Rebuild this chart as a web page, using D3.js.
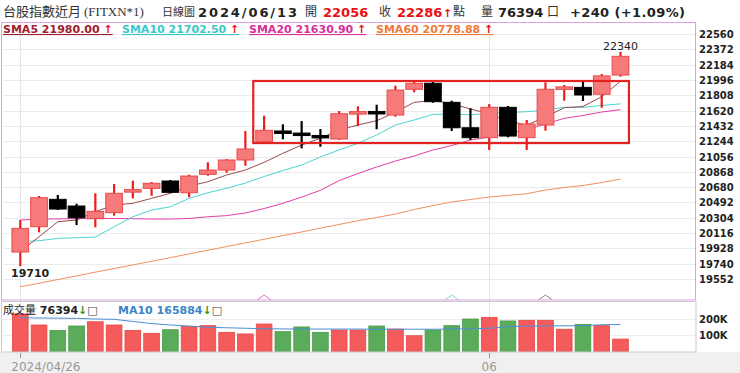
<!DOCTYPE html>
<html>
<head>
<meta charset="utf-8">
<script src="https://cdn.jsdelivr.net/npm/d3@7"></script>
<style>
  body { margin: 0; background: #fff; }
  svg { display: block; }
</style>
</head>
<body>
<script>
// daily candles, 2024/04/26 - 2024/06/13
const dates = ['2024/04/26','2024/04/29','2024/04/30','2024/05/02','2024/05/03',
  '2024/05/06','2024/05/07','2024/05/08','2024/05/09','2024/05/10',
  '2024/05/13','2024/05/14','2024/05/15','2024/05/16','2024/05/17',
  '2024/05/20','2024/05/21','2024/05/22','2024/05/23','2024/05/24',
  '2024/05/27','2024/05/28','2024/05/29','2024/05/30','2024/05/31',
  '2024/06/03','2024/06/04','2024/06/05','2024/06/06','2024/06/07',
  '2024/06/11','2024/06/12','2024/06/13'];
const opens  = [19883,20194,20530,20448,20292,20366,20620,20665,20755,20611,20837,20890,21013,21237,21360,21341,21311,
  21271,21581,21606,21565,21881,21955,21721,21409,21287,21660,21287,21443,21885,21905,21820,22056];
const highs  = [20276,20571,20583,20476,20604,20718,20759,20743,20767,20832,20984,21025,21369,21557,21451,21492,21393,
  21614,21672,21692,21925,21995,21971,21741,21648,21700,21676,21504,21967,21934,21974,22069,22340];
const lows   = [19710,20125,20399,20214,20186,20329,20542,20574,20611,20555,20820,20857,20943,21230,21267,21156,21176,
  21258,21430,21390,21544,21844,21716,21369,21258,21136,21291,21136,21373,21741,21737,21655,22036];
const closes = [20174,20550,20411,20304,20383,20604,20648,20727,20616,20816,20890,21013,21148,21377,21348,21316,21287,
  21581,21602,21581,21872,21955,21729,21409,21287,21660,21307,21455,21881,21905,21811,22046,22286];
const volumes = [231000,163000,130000,157000,183000,163000,130000,112000,134000,153000,159000,118000,108000,169000,
  122000,151000,118000,132000,132000,157000,138000,97000,132000,159000,200000,210000,188000,192000,192000,137000,
  167000,159000,76394];

const sma5  = [19887,20071,20255,20276,20378,20460,20481,20542,20604,20693,20746,20829,20890,20984,21095,21197,21279,
  21381,21443,21495,21600,21721,21745,21705,21640,21580,21492,21443,21541,21655,21670,21790,21980.00];
const sma10 = [20009,20022,20051,20059,20067,20194,20316,20399,20439,20542,20611,20665,20730,20810,20884,20951,21050,
  21136,21218,21320,21443,21504,21574,21574,21569,21584,21596,21606,21623,21660,21660,21682,21702.50];
const sma20 = [20276,20288,20290,20292,20295,20295,20292,20288,20288,20295,20316,20330,20362,20417,20481,20558,20641,
  20760,20847,20927,21000,21062,21136,21191,21258,21295,21338,21385,21455,21525,21559,21602,21630.90];
const sma60 = [19457,19500,19545,19590,19636,19680,19725,19770,19815,19860,19905,19950,19995,20040,20085,20130,20176,
  20222,20267,20307,20350,20405,20454,20497,20528,20558,20579,20599,20644,20675,20700,20736,20778.88];
const volMa10 = [208000,206000,205000,204000,200000,198000,185000,172000,163000,157000,149000,146000,143000,140000,
  139000,138000,138000,138000,138000,137000,137000,137000,137000,138000,140000,143000,153000,156000,157000,158000,
  159000,165000,165884];

const priceTicks = [22560,22372,22184,21996,21808,21620,21432,21244,21056,20868,20680,20492,20304,20116,19928,19740,19552];
const volTicks = [200000, 100000];
const volTickLabels = ['200K', '100K'];
const dateTicks = ['2024/04/26', '2024/06/03'];
const dateTickLabels = ['2024/04/26', '06'];

// moving-average cross markers along the bottom of the price panel
const crossDates = ['2024/05/16', '2024/05/30', '2024/06/06'];
const crossColors = ['#e070b8', '#7fd8d0', '#a87878'];

// boxed consolidation range
const boxFrom = '2024/05/16', boxTo = '2024/06/13';
const boxHigh = 21983, boxLow = 21221;

const W = 740, H = 373;
const numFont = '"DejaVu Sans", Verdana, sans-serif';
const cjkFont = '"Noto Sans CJK TC", sans-serif';
const serifFont = '"Liberation Serif", serif';

const svg = d3.select('body').append('svg')
  .attr('width', W).attr('height', H)
  .style('font-family', numFont);

const x = d3.scalePoint().domain(dates).range([20.3, 620.5]);
const step = x.step();
const bodyW = step * 0.89;
const y = d3.scaleLinear().domain([19552, 22560]).range([279, 34]);
const yv = d3.scaleLinear().domain([0, 200000]).range([351.5, 319]);

// bottom strip
svg.append('rect').attr('x', 0).attr('y', 352).attr('width', W).attr('height', H - 352).attr('fill', '#f0f0f0');

// grids
svg.append('g').selectAll('line').data(priceTicks).enter().append('line')
  .attr('x1', 3).attr('x2', 695)
  .attr('y1', d => Math.round(y(d)) + 0.5).attr('y2', d => Math.round(y(d)) + 0.5)
  .attr('stroke', '#ebebeb');
svg.append('g').selectAll('line').data(volTicks).enter().append('line')
  .attr('x1', 3).attr('x2', 695)
  .attr('y1', d => Math.round(yv(d)) + 0.5).attr('y2', d => Math.round(yv(d)) + 0.5)
  .attr('stroke', '#ededed');
svg.append('g').selectAll('line').data(dateTicks).enter().append('line')
  .attr('x1', d => Math.round(x(d)) + 0.5).attr('x2', d => Math.round(x(d)) + 0.5)
  .attr('y1', 23).attr('y2', 352)
  .attr('stroke', '#e6e6e6');

// date axis
const dx = svg.append('g');
dx.selectAll('line').data(dateTicks).enter().append('line')
  .attr('x1', d => Math.round(x(d)) + 0.5).attr('x2', d => Math.round(x(d)) + 0.5)
  .attr('y1', 353).attr('y2', 358).attr('stroke', '#999');
dx.selectAll('text').data(dateTicks).enter().append('text')
  .attr('x', (d, i) => i === 0 ? x(d) - 9 : x(d))
  .attr('y', 371)
  .attr('text-anchor', (d, i) => i === 0 ? 'start' : 'middle')
  .attr('font-size', 12).attr('fill', '#999')
  .text((d, i) => dateTickLabels[i]);

// price axis labels
svg.append('g').selectAll('text').data(priceTicks).enter().append('text')
  .attr('x', 699).attr('y', d => y(d) + 4)
  .attr('font-size', 10).attr('font-weight', 'bold').attr('fill', '#222')
  .text(d => d);
svg.append('g').selectAll('text').data(volTicks).enter().append('text')
  .attr('x', 699).attr('y', d => yv(d) + 4)
  .attr('font-size', 10).attr('font-weight', 'bold').attr('fill', '#222')
  .text((d, i) => volTickLabels[i]);

// moving averages
const line = d3.line().x((d, i) => x(dates[i])).y(d => y(d));
[[sma60, '#f0905e'], [sma20, '#e040a8'], [sma10, '#4cd4d0'], [sma5, '#9c4a4a']].forEach(([s, c]) => {
  svg.append('path').datum(s).attr('d', line)
    .attr('fill', 'none').attr('stroke', c).attr('stroke-width', 1);
});

// candles
const cg = svg.append('g').selectAll('g').data(dates).enter().append('g');
const up = i => closes[i] >= opens[i];
cg.append('line')
  .attr('x1', d => x(d)).attr('x2', d => x(d))
  .attr('y1', (d, i) => y(highs[i])).attr('y2', (d, i) => y(lows[i]))
  .attr('stroke', (d, i) => up(i) ? '#ee1c1c' : '#000')
  .attr('stroke-width', 2.2);
cg.append('rect')
  .attr('x', d => x(d) - bodyW / 2)
  .attr('width', bodyW)
  .attr('y', (d, i) => {
    const h = Math.abs(y(opens[i]) - y(closes[i]));
    return Math.min(y(opens[i]), y(closes[i])) - (h < 2.5 ? (2.5 - h) / 2 : 0);
  })
  .attr('height', (d, i) => Math.max(2.5, Math.abs(y(opens[i]) - y(closes[i]))))
  .attr('fill', (d, i) => up(i) ? '#f67a7a' : '#000')
  .attr('stroke', (d, i) => up(i) ? '#e94a4a' : '#000')
  .attr('stroke-width', 1);

// the box
svg.append('rect')
  .attr('x', x(boxFrom) - step * 0.58)
  .attr('y', y(boxHigh))
  .attr('width', x(boxTo) + step * 0.45 - (x(boxFrom) - step * 0.58))
  .attr('height', y(boxLow) - y(boxHigh))
  .attr('fill', 'none').attr('stroke', '#e32222').attr('stroke-width', 2.2);

// high / low labels
const hiIdx = d3.maxIndex(highs), loIdx = d3.minIndex(lows);
svg.append('text').attr('x', x(dates[hiIdx])).attr('y', y(highs[hiIdx]) - 2)
  .attr('text-anchor', 'middle').attr('font-size', 11).attr('fill', '#222')
  .text(highs[hiIdx]);
svg.append('text').attr('x', Math.max(11, x(dates[loIdx]) - 9.5)).attr('y', y(lows[loIdx]) + 11)
  .attr('font-size', 11).attr('font-weight', 'bold').attr('fill', '#222')
  .text(lows[loIdx]);

// cross markers
svg.append('g').selectAll('path').data(crossDates).enter().append('path')
  .attr('d', d => `M${x(d) - 7},300 L${x(d)},295 L${x(d) + 7},300`)
  .attr('fill', 'none').attr('stroke', (d, i) => crossColors[i]).attr('stroke-width', 1);

// volume bars
svg.append('g').selectAll('rect').data(dates).enter().append('rect')
  .attr('x', d => x(d) - bodyW / 2 + 0.5)
  .attr('width', bodyW - 1)
  .attr('y', (d, i) => yv(volumes[i]))
  .attr('height', (d, i) => yv(0) - yv(volumes[i]))
  .attr('fill', (d, i) => up(i) ? '#f45b5b' : '#5aab5a')
  .attr('stroke', (d, i) => up(i) ? '#e84545' : '#4a9a4a')
  .attr('stroke-width', 0.8);
svg.append('path').datum(volMa10)
  .attr('d', d3.line().x((d, i) => x(dates[i])).y(d => yv(d)))
  .attr('fill', 'none').attr('stroke', '#4a8fd4').attr('stroke-width', 1);

// panel borders
svg.append('rect').attr('x', 1.5).attr('y', 22.5).attr('width', 694).attr('height', 277.5)
  .attr('fill', 'none').attr('stroke', '#dca0e4');
svg.append('rect').attr('x', 1.5).attr('y', 301.5).attr('width', 694.5).attr('height', 50.5)
  .attr('fill', 'none').attr('stroke', '#cccccc');

// header
const last = dates.length - 1;
const chg = closes[last] - closes[last - 1];
const head = svg.append('g');
const cjk = (tx, str, size) => head.append('text').attr('x', tx).attr('y', 16)
  .attr('font-size', size || 13).attr('fill', '#333').style('font-family', cjkFont).text(str);
const num = (tx, str, col, len) => {
  const t = head.append('text').attr('x', tx).attr('y', 16.5).attr('font-size', 13)
    .attr('font-weight', 'bold').attr('fill', col).text(str);
  if (len) t.attr('textLength', len);
  return t;
};
cjk(3, '台股指數近月');
head.append('text').attr('x', 84).attr('y', 16).attr('font-size', 13).attr('fill', '#333')
  .style('font-family', serifFont).text('(FITXN*1)');
cjk(162, '日線圖', 11);
num(198, dates[last], '#222', 99);
cjk(305, '開', 12);
num(323, opens[last], '#e81010');
cjk(379, '收', 12);
num(397, closes[last], '#e81010');
head.append('text').attr('x', 443).attr('y', 16.5).attr('font-size', 11).attr('font-weight', 'bold')
  .attr('fill', '#e81010').text('↑');
cjk(453, '點', 12);
cjk(481, '量', 12);
num(498, volumes[last], '#222');
cjk(547, '口', 12);
num(570, `+${chg} (+${(chg / closes[last - 1] * 100).toFixed(2)}%)`, '#222', 115);

// MA legend
const legend = [
  ['SMA5', sma5, '#a0202e', 3],
  ['SMA10', sma10, '#3cc8c8', 122],
  ['SMA20', sma20, '#d8309c', 249],
  ['SMA60', sma60, '#ee7a3a', 376]
];
legend.forEach(([name, s, c, lx]) => {
  const t = svg.append('text').attr('x', lx).attr('y', 33)
    .attr('font-size', 11).attr('font-weight', 'bold')
    .style('text-decoration', 'underline').attr('fill', c);
  t.append('tspan').text(`${name} ${s[last].toFixed(2)}`);
  t.append('tspan').attr('fill', '#e81010').text(' ↑');
});

// volume legend
const vl = svg.append('text').attr('x', 3).attr('y', 314).attr('font-size', 11);
vl.append('tspan').attr('fill', '#222').style('font-family', cjkFont).attr('font-size', 11).text('成交量');
vl.append('tspan').attr('fill', '#222').attr('font-weight', 'bold').text(' ' + volumes[last]);
vl.append('tspan').attr('fill', '#2a9a2a').attr('font-weight', 'bold').text('↓');
vl.append('tspan').attr('fill', '#444').text('□');
const vl2 = svg.append('text').attr('x', 118).attr('y', 314).attr('font-size', 11).attr('font-weight', 'bold');
vl2.append('tspan').attr('fill', '#3a86c8').text(`MA10 ${volMa10[last]}`);
vl2.append('tspan').attr('fill', '#2a9a2a').text('↓');
vl2.append('tspan').attr('fill', '#444').attr('font-weight', 'normal').text('□');
</script>
</body>
</html>
